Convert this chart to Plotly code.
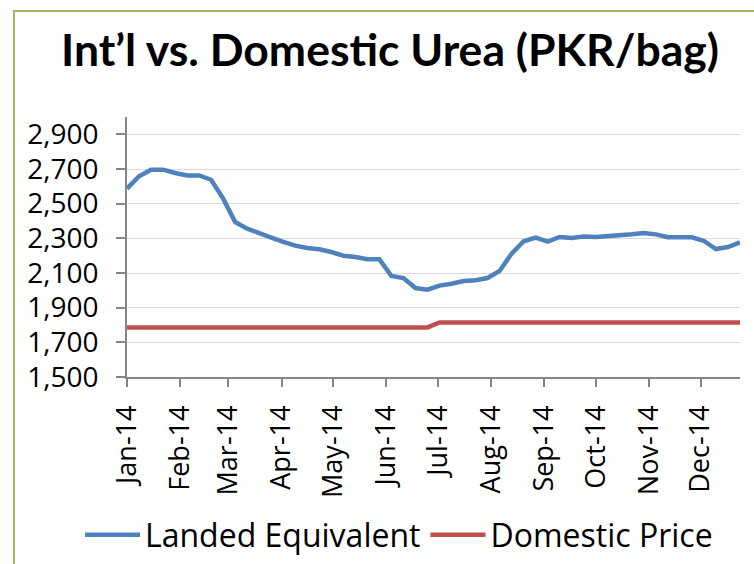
import plotly.graph_objects as go

# Weekly observation dates (2014)
dates = [
    "2014-01-01", "2014-01-08", "2014-01-15", "2014-01-22", "2014-01-29",
    "2014-02-05", "2014-02-12", "2014-02-19", "2014-02-26", "2014-03-05",
    "2014-03-12", "2014-03-19", "2014-03-26", "2014-04-02", "2014-04-09",
    "2014-04-16", "2014-04-23", "2014-04-30", "2014-05-07", "2014-05-14",
    "2014-05-21", "2014-05-28", "2014-06-04", "2014-06-11", "2014-06-18",
    "2014-06-25", "2014-07-02", "2014-07-09", "2014-07-16", "2014-07-23",
    "2014-07-30", "2014-08-06", "2014-08-13", "2014-08-20", "2014-08-27",
    "2014-09-03", "2014-09-10", "2014-09-17", "2014-09-24", "2014-10-01",
    "2014-10-08", "2014-10-15", "2014-10-22", "2014-10-29", "2014-11-05",
    "2014-11-12", "2014-11-19", "2014-11-26", "2014-12-03", "2014-12-10",
    "2014-12-17", "2014-12-24",
]

landed_equivalent = [
    2587, 2658, 2696, 2696, 2677, 2663, 2663, 2638, 2529, 2394,
    2356, 2327, 2304, 2279, 2258, 2244, 2237, 2221, 2200, 2192,
    2179, 2179, 2083, 2071, 2013, 2004, 2027, 2038, 2054, 2058,
    2071, 2112, 2212, 2283, 2304, 2281, 2308, 2302, 2310, 2308,
    2312, 2319, 2323, 2331, 2323, 2306, 2304, 2306, 2285, 2238,
    2250, 2277,
]

domestic_price = [
    1786, 1786, 1786, 1786, 1786, 1786, 1786, 1786, 1786, 1786,
    1786, 1786, 1786, 1786, 1786, 1786, 1786, 1786, 1786, 1786,
    1786, 1786, 1786, 1786, 1786, 1786, 1815, 1815, 1815, 1815,
    1815, 1815, 1815, 1815, 1815, 1815, 1815, 1815, 1815, 1815,
    1815, 1815, 1815, 1815, 1815, 1815, 1815, 1815, 1815, 1815,
    1815, 1815,
]

title_text = "Int’l vs. Domestic Urea (PKR/bag)"
series_names = ["Landed Equivalent", "Domestic Price"]
y_min, y_max, y_step = 1500, 3000, 200

FONT = "Open Sans"
TITLE_FONT = "Lato"
W, H = 754, 564
ML, MR, MT, MB = 127, 14, 117, 187
PW, PH = W - ML - MR, H - MT - MB


def px_x(px):
    return (px - ML) / PW


def px_y(py):
    return (H - MB - py) / PH


fig = go.Figure()
fig.add_trace(go.Scatter(x=dates, y=landed_equivalent, mode="lines",
                         name=series_names[0],
                         line=dict(color="#4F81BD", width=4.5)))
fig.add_trace(go.Scatter(x=dates, y=domestic_price, mode="lines",
                         name=series_names[1],
                         line=dict(color="#C0504D", width=4.5)))

fig.update_layout(
    width=W, height=H,
    margin=dict(l=ML, r=MR, t=MT, b=MB, autoexpand=False),
    paper_bgcolor="white", plot_bgcolor="white",
    font=dict(family=FONT, color="black"),
    title=dict(text=title_text, x=390 / W, xref="container", xanchor="center",
               y=1 - 50 / H, yref="container", yanchor="middle",
               font=dict(family=TITLE_FONT, size=44.5, color="black", weight="bold")),
    showlegend=True,
    legend=dict(orientation="h", x=px_x(80), xanchor="left",
                y=px_y(535), yanchor="middle",
                font=dict(size=32, family=FONT), itemwidth=55,
                bgcolor="rgba(0,0,0,0)", tracegroupgap=0),
    shapes=[dict(type="rect", xref="paper", yref="paper",
                 x0=px_x(14), y0=px_y(600), x1=px_x(800), y1=px_y(11),
                 line=dict(color="#9BBB59", width=2), fillcolor="rgba(0,0,0,0)",
                 layer="below")],
)

fig.update_xaxes(
    type="date", range=[dates[0], dates[-1]],
    tick0="2014-01-01", dtick="M1", tickformat="%b-%y",
    tickangle=-90, ticks="outside", ticklen=8, tickcolor="#868686", tickwidth=1.5,
    showline=True, linecolor="#868686", linewidth=1.5,
    showgrid=False, zeroline=False,
    tickfont=dict(size=27, family=FONT, color="black"),
    ticklabelstandoff=8,
)
fig.update_yaxes(
    range=[y_min, y_max], tick0=y_min, dtick=y_step, tickformat=",",
    ticks="outside", ticklen=9, tickcolor="#868686", tickwidth=1.5,
    showline=True, linecolor="#868686", linewidth=1.5,
    showgrid=True, gridcolor="#D9D9D9", gridwidth=1.3, zeroline=False,
    tickfont=dict(size=28, family=FONT, color="black"),
    ticklabelstandoff=12,
)

fig.write_html("out.html", config={"displayModeBar": False},
               post_script="document.body.style.margin='0';")
